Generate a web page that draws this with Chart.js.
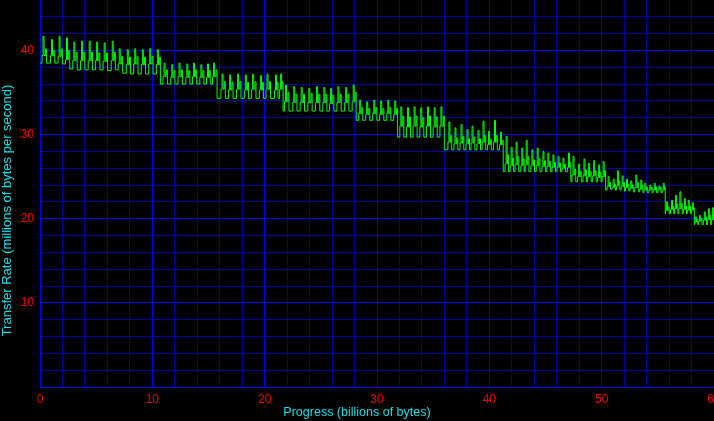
<!DOCTYPE html>
<html><head><meta charset="utf-8">
<script src="https://cdn.jsdelivr.net/npm/chart.js@4/dist/chart.umd.min.js"></script>
<style>html,body{margin:0;padding:0;background:#000;overflow:hidden}</style>
</head><body>
<canvas id="c" width="714" height="421"></canvas>
<script>
// Progress (billions of bytes) where each read spike rises
const startRate = 38.5;
const peakX = [
  0.27,1.02,1.70,2.36,3.01,3.70,4.38,5.04,5.71,6.43,7.05,7.77,8.43,9.11,9.77,10.45,
  11.04,11.73,12.38,13.07,13.66,14.32,14.91,15.45,
  16.20,16.88,17.59,18.28,18.93,19.62,20.21,20.96,21.42,
  21.85,22.59,23.25,23.93,24.62,25.27,25.87,26.52,27.21,27.88,
  28.46,29.08,29.71,30.33,30.96,31.58,
  32.12,32.71,33.30,33.90,34.49,35.09,35.69,
  36.40,36.94,37.48,38.01,38.46,38.99,39.44,39.93,40.46,41.00,
  41.49,41.94,42.38,42.89,43.28,43.79,44.26,44.77,45.21,45.66,46.11,46.55,47.05,
  47.45,47.95,48.43,48.84,49.29,49.73,50.13,
  50.57,51.02,51.40,51.82,52.21,52.59,53.04,53.48,53.84,54.29,54.68,55.09,55.48,
  55.78,56.22,56.58,56.96,57.36,57.71,58.07,
  58.37,58.72,59.14,59.50,59.88
];
// Transfer rate at the top of each tall spike (millions of bytes per second)
const peakY = [
  41.7,41.3,41.7,41.5,41.0,41.1,41.1,41.0,40.9,41.1,40.2,40.1,40.2,40.1,40.2,40.1,
  38.5,38.3,38.5,38.4,38.5,38.3,38.4,38.5,
  37.2,37.1,37.2,37.1,37.2,37.0,37.2,37.1,37.2,
  35.9,35.7,35.6,35.5,35.7,35.6,35.5,35.7,35.6,35.9,
  34.1,33.9,34.1,34.0,34.1,34.0,
  33.3,33.2,33.3,33.2,33.3,33.2,33.3,
  31.5,30.8,31.2,30.6,31.0,30.5,31.6,30.4,31.7,30.3,
  29.8,28.5,29.1,28.4,29.3,28.2,28.4,28.0,27.8,27.6,27.4,27.2,27.8,
  27.4,26.5,27.1,26.6,26.9,26.4,26.8,
  25.0,24.7,25.7,25.1,24.7,24.5,25.2,24.6,24.2,24.0,24.2,23.9,24.2,
  22.0,22.2,22.8,23.2,22.4,22.2,21.9,
  20.2,20.4,20.8,21.2,21.3
];
// Rate at the top of the smaller second spike
const secondY = [
  40.2,40.0,40.2,40.0,39.8,39.8,39.8,39.7,39.7,39.8,39.3,39.2,39.3,39.2,39.3,39.2,
  37.7,37.6,37.7,37.6,37.7,37.6,37.6,37.7,
  36.3,36.2,36.3,36.2,36.3,36.2,36.3,36.2,36.3,
  35.0,34.8,34.8,34.9,34.8,34.8,34.7,34.8,34.8,35.0,
  33.2,33.1,33.2,33.1,33.2,33.1,
  32.2,32.1,32.2,32.0,32.2,32.1,32.2,
  29.9,29.6,29.8,29.5,29.7,29.5,29.9,29.4,29.9,29.3,
  27.6,27.2,27.4,27.1,27.4,27.0,27.1,26.9,26.8,26.7,26.6,26.5,26.7,
  25.9,25.6,25.8,25.6,25.7,25.5,25.7,
  24.3,24.1,24.5,24.3,24.1,24.0,24.3,24.0,23.8,23.7,23.8,23.7,23.8,
  21.4,21.5,21.7,21.8,21.5,21.5,21.3,
  19.9,20.0,20.2,20.4,20.5
];
// Rate of the shoulder around the tall spike
const shoulderY = [
  39.4,39.4,39.3,38.9,38.8,38.8,38.8,38.8,38.7,38.8,38.4,38.3,38.4,38.3,38.4,38.3,
  36.9,36.8,36.9,36.8,36.9,36.8,36.8,36.9,
  35.4,35.3,35.4,35.3,35.4,35.3,35.4,35.3,35.4,
  33.9,33.8,33.8,33.8,33.8,33.8,33.7,33.8,33.8,33.9,
  32.5,32.4,32.5,32.4,32.5,32.4,
  31.0,30.9,31.0,30.9,31.0,30.9,31.0,
  29.1,28.9,29.0,28.9,29.0,28.9,29.1,28.8,29.1,28.8,
  26.5,26.3,26.4,26.3,26.4,26.3,26.3,26.2,26.2,26.1,26.1,26.0,26.1,
  25.2,25.0,25.1,25.0,25.1,24.9,25.0,
  23.8,23.7,23.9,23.8,23.7,23.6,23.7,23.5,23.4,23.4,23.4,23.4,23.4,
  21.0,21.1,21.2,21.2,21.1,21.0,21.0,
  19.6,19.7,19.8,19.9,19.9
];
// Base rate held after each spike pair until the next one
const baseY = [
  38.5,38.5,38.4,37.8,37.7,37.7,37.7,37.7,37.6,37.7,37.3,37.2,37.2,37.2,37.2,36.0,
  36.0,36.0,36.0,36.0,36.0,36.0,36.0,34.3,
  34.3,34.3,34.3,34.3,34.3,34.3,34.3,34.3,32.8,
  32.8,32.8,32.8,32.8,32.8,32.8,32.8,32.8,32.8,31.7,
  31.7,31.7,31.7,31.7,31.7,29.7,
  29.7,29.7,29.7,29.7,29.7,29.7,28.2,
  28.2,28.2,28.2,28.2,28.2,28.2,28.2,28.2,28.2,25.6,
  25.6,25.6,25.6,25.6,25.6,25.6,25.6,25.6,25.6,25.6,25.6,25.6,24.4,
  24.4,24.4,24.4,24.4,24.4,24.4,23.4,
  23.5,23.4,23.4,23.3,23.3,23.2,23.2,23.1,23.1,23.1,23.1,23.1,20.6,
  20.6,20.6,20.6,20.6,20.6,20.6,19.3,
  19.3,19.3,19.3,19.3,19.3
];
const xTitle = 'Progress (billions of bytes)';
const yTitle = 'Transfer Rate (millions of bytes per second)';

// Stepped line per period: shoulder, tall spike, shoulder, second spike, base
const SPIKE = 0.09;      // one pixel, in axis units
const SECOND_AT = 0.3;   // share of the spacing where the second spike sits
const points = [{x: 0, y: startRate}];
for (let i = 0; i < peakX.length; i++) {
  const gap = i < peakX.length - 1 ? peakX[i + 1] - peakX[i] : peakX[i] - peakX[i - 1];
  const x2 = peakX[i] + SECOND_AT * gap;
  points.push({x: peakX[i] - SPIKE, y: shoulderY[i]});
  points.push({x: peakX[i], y: peakY[i]});
  points.push({x: peakX[i] + SPIKE, y: shoulderY[i]});
  points.push({x: x2, y: secondY[i]});
  points.push({x: x2 + SPIKE, y: baseY[i]});
}

const FONT = 'Liberation Sans, Arial, sans-serif';
const major = '#0000ff', minor = '#0000a8';

new Chart(document.getElementById('c'), {
  type: 'line',
  data: { datasets: [{
    data: points, borderColor: '#00ff00', borderWidth: 1, pointRadius: 0,
    stepped: true, fill: false, tension: 0
  }]},
  options: {
    responsive: false, animation: false,
    layout: { padding: 0 },
    plugins: {
      legend: { display: false }, tooltip: { enabled: false },
      title: { display: true, text: xTitle, position: 'bottom', color: '#10e0e8',
        font: { family: FONT, size: 12.5, weight: 'normal' }, padding: { top: 0, bottom: 1 } },
      subtitle: { display: true, text: yTitle, position: 'left', color: '#10e0e8',
        font: { family: FONT, size: 13, weight: 'normal' }, padding: { top: 0, bottom: 0 } }
    },
    scales: {
      x: { type: 'linear', min: 0, max: 60,
        ticks: { stepSize: 2, autoSkip: false, maxRotation: 0, color: '#ff0000', padding: 5,
          font: { family: FONT, size: 12 },
          callback: v => (v % 10 === 0 ? String(v) : '') },
        grid: { drawTicks: false, lineWidth: 1,
          color: c => (c.tick && c.tick.value % 10 === 0 ? major : minor) },
        border: { color: major, width: 1 },
        afterFit: s => { s.height = 18; s.paddingLeft = 0; s.paddingRight = 0; }
      },
      y: { min: 0, max: 46,
        ticks: { stepSize: 2, autoSkip: false, color: '#ff0000', padding: 6,
          font: { family: FONT, size: 12 },
          callback: v => (v % 10 === 0 && v > 0 ? String(v) : '') },
        grid: { drawTicks: false, lineWidth: 1,
          color: c => (!c.tick ? minor : c.tick.value === 46 ? 'rgba(0,0,0,0)' : c.tick.value % 10 === 0 ? major : minor) },
        border: { color: major, width: 1 },
        afterFit: s => { s.width = 40 - 15.6; s.paddingTop = 0; s.paddingBottom = 0; }
      }
    }
  }
});
</script>
</body></html>
